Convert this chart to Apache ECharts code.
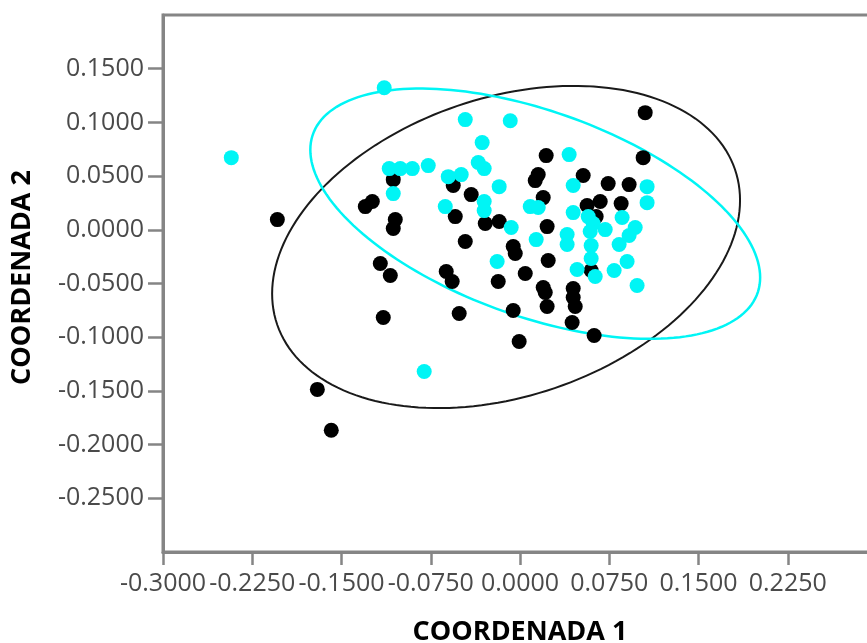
<!DOCTYPE html>
<html>
<head>
<meta charset="utf-8">
<script src="https://cdn.jsdelivr.net/npm/echarts@6/dist/echarts.min.js"></script>
<style>
  html, body { margin: 0; padding: 0; background: #fff; }
  #chart { width: 867px; height: 643px; }
</style>
</head>
<body>
<div id="chart"></div>
<script>
// Axis settings / titles
const xAxisTitle = 'COORDENADA 1';
const yAxisTitle = 'COORDENADA 2';
const xTicks = [-0.3, -0.225, -0.15, -0.075, 0, 0.075, 0.15, 0.225, 0.3];
const yTicks = [-0.3, -0.25, -0.2, -0.15, -0.1, -0.05, 0, 0.05, 0.1, 0.15, 0.2];

// Group 1 (cyan) points: [coord1, coord2]
const cyanPoints = [
  [-0.2426, 0.0672], [-0.1141, 0.1323], [-0.0460, 0.1026], [-0.0082, 0.1016],
  [-0.0318, 0.0812], [-0.0351, 0.0626], [-0.0301, 0.0570], [-0.1099, 0.0570],
  [-0.1006, 0.0570], [-0.0905, 0.0570], [-0.0771, 0.0598], [-0.0603, 0.0495],
  [-0.0494, 0.0514], [-0.0175, 0.0402], [-0.1065, 0.0337], [-0.0628, 0.0216],
  [-0.0301, 0.0263], [-0.0301, 0.0179], [0.0086, 0.0216], [0.0153, 0.0207],
  [-0.0074, 0.0021], [0.0136, -0.0091], [-0.0192, -0.0295], [0.0413, 0.0700],
  [0.0447, 0.0412], [0.1068, 0.0402], [0.1068, 0.0253], [0.0447, 0.0160],
  [0.0573, 0.0123], [0.0615, 0.0058], [0.0590, -0.0016], [0.0716, 0.0002],
  [0.0858, 0.0114], [0.0968, 0.0021], [0.0917, -0.0053], [0.0833, -0.0137],
  [0.0598, -0.0147], [0.0396, -0.0044], [0.0396, -0.0137], [0.0598, -0.0267],
  [0.0480, -0.0370], [0.0632, -0.0435], [0.0791, -0.0379], [0.0900, -0.0295],
  [0.0984, -0.0519], [-0.0805, -0.1319]
];

// Group 2 (black) points: [coord1, coord2]
const blackPoints = [
  [-0.2039, 0.0095], [-0.1300, 0.0216], [-0.1241, 0.0263], [-0.1065, 0.0467],
  [-0.1048, 0.0095], [-0.1065, 0.0012], [-0.0561, 0.0412], [-0.0410, 0.0328],
  [-0.0544, 0.0123], [-0.0292, 0.0058], [-0.0175, 0.0077], [-0.0460, -0.0109],
  [-0.0057, -0.0156], [-0.0040, -0.0221], [0.0220, 0.0691], [0.0153, 0.0514],
  [0.0128, 0.0458], [0.0195, 0.0300], [0.0228, 0.0030], [-0.1174, -0.0314],
  [-0.1090, -0.0426], [-0.0620, -0.0388], [-0.0570, -0.0481], [-0.0183, -0.0481],
  [0.0044, -0.0407], [0.0195, -0.0537], [0.0212, -0.0584], [-0.1149, -0.0816],
  [-0.0511, -0.0779], [0.1052, 0.1091], [0.1035, 0.0672], [0.0531, 0.0505],
  [0.0741, 0.0430], [0.0917, 0.0421], [0.0564, 0.0226], [0.0674, 0.0263],
  [0.0850, 0.0244], [0.0640, 0.0123], [0.0237, -0.0286], [0.0447, -0.0547],
  [0.0447, -0.0630], [0.0464, -0.0714], [0.0228, -0.0714], [-0.0057, -0.0751],
  [0.0438, -0.0863], [0.0623, -0.0984], [-0.0007, -0.1040], [-0.1703, -0.1486],
  [-0.1586, -0.1867], [0.0598, -0.0379]
];

// Confidence ellipses: [centerX, centerY, halfWidthX, halfHeightY, correlation]
const blackEllipse = [-0.0117, -0.0160, 0.1966, 0.1500, 0.29];
const cyanEllipse = [0.0128, 0.0150, 0.1890, 0.1165, -0.51];

const chart = echarts.init(document.getElementById('chart'), null, { renderer: 'canvas' });

function ellipseRenderer(color, width) {
  return function (params, api) {
    const cx = api.value(0), cy = api.value(1), w = api.value(2), h = api.value(3), r = api.value(4);
    const s = Math.sqrt(1 - r * r);
    const pts = [];
    const n = 180;
    for (let i = 0; i <= n; i++) {
      const t = (i / n) * Math.PI * 2;
      const x = cx + w * Math.cos(t);
      const y = cy + h * (r * Math.cos(t) + s * Math.sin(t));
      pts.push(api.coord([x, y]));
    }
    return {
      type: 'polyline',
      shape: { points: pts },
      style: { fill: 'none', stroke: color, lineWidth: width }
    };
  };
}

const labelStyle = { fontFamily: 'Open Sans', fontSize: 25, color: '#4a4a4a' };
const titleStyle = { fontFamily: 'Open Sans', fontWeight: 'bold', fontSize: 27, color: '#000' };
const axisGrey = '#858585';

chart.setOption({
  animation: false,
  backgroundColor: '#fff',
  grid: {
    left: 163, top: 15, width: 714, height: 537,
    containLabel: false, outerBoundsMode: 'none',
    show: true, borderColor: axisGrey, borderWidth: 3, backgroundColor: 'transparent'
  },
  xAxis: {
    type: 'value',
    min: xTicks[0], max: xTicks[xTicks.length - 1], interval: 0.075,
    name: xAxisTitle, nameLocation: 'middle', nameGap: 67,
    nameTextStyle: titleStyle,
    axisLine: { show: true, onZero: false, lineStyle: { color: axisGrey, width: 3 } },
    axisTick: { show: true, inside: false, length: 13, lineStyle: { color: axisGrey, width: 2.5 } },
    axisLabel: Object.assign({ margin: 19, showMinLabel: true, showMaxLabel: false, hideOverlap: false, formatter: v => v.toFixed(4) }, labelStyle),
    splitLine: { show: false }
  },
  yAxis: {
    type: 'value',
    min: yTicks[0], max: yTicks[yTicks.length - 1], interval: 0.05,
    name: yAxisTitle, nameLocation: 'middle', nameGap: 127, nameRotate: 90,
    nameTextStyle: Object.assign({ padding: [0, 0, 0, 12] }, titleStyle),
    axisLine: { show: true, onZero: false, lineStyle: { color: axisGrey, width: 3 } },
    axisTick: { show: true, inside: false, length: 15, lineStyle: { color: axisGrey, width: 2.5 } },
    axisLabel: Object.assign({ margin: 19, showMinLabel: false, showMaxLabel: false, formatter: v => v.toFixed(4) }, labelStyle),
    splitLine: { show: false }
  },
  series: [
    {
      type: 'custom', name: 'ellipse2', data: [blackEllipse],
      encode: { x: 0, y: 1 }, renderItem: ellipseRenderer('#1a1a1a', 2), z: 1, silent: true
    },
    {
      type: 'custom', name: 'ellipse1', data: [cyanEllipse],
      encode: { x: 0, y: 1 }, renderItem: ellipseRenderer('#00f5f5', 2.5), z: 1, silent: true
    },
    {
      type: 'scatter', name: 'grupo2', data: blackPoints,
      symbol: 'circle', symbolSize: 15, itemStyle: { color: '#000', opacity: 1 }, z: 3
    },
    {
      type: 'scatter', name: 'grupo1', data: cyanPoints,
      symbol: 'circle', symbolSize: 15, itemStyle: { color: '#00f5f5', opacity: 1 }, z: 4
    }
  ]
});
</script>
</body>
</html>
